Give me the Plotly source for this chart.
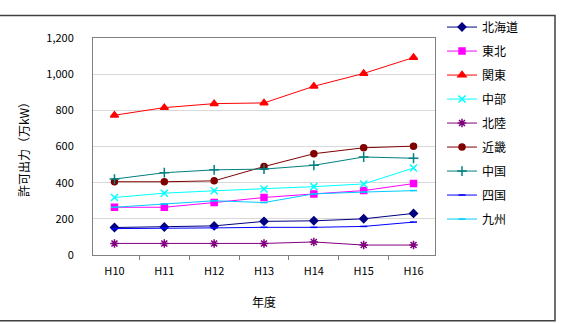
import plotly.graph_objects as go

years = ["H10", "H11", "H12", "H13", "H14", "H15", "H16"]
names = ["北海道", "東北", "関東", "中部", "北陸", "近畿", "中国", "四国", "九州"]
hokkaido = [152, 155, 161, 186, 189, 200, 230]
tohoku = [264, 264, 290, 318, 338, 356, 395]
kanto = [773, 815, 837, 841, 933, 1004, 1092]
chubu = [318, 342, 355, 365, 378, 393, 481]
hokuriku = [64, 64, 64, 64, 72, 55, 55]
kinki = [405, 405, 410, 489, 560, 593, 602]
chugoku = [420, 455, 471, 475, 496, 542, 535]
shikoku = [146, 150, 150, 153, 153, 158, 182]
kyushu = [264, 282, 300, 290, 338, 348, 356]
series = [hokkaido, tohoku, kanto, chubu, hokuriku, kinki, chugoku, shikoku, kyushu]

colors = ["#000080", "#FF00FF", "#FF0000", "#00FFFF", "#800080",
          "#800000", "#008080", "#0000FF", "#00CCFF"]
symbols = ["diamond", "square", "triangle-up", "x-thin-open", "asterisk-open",
           "circle", "cross-thin-open", "line-ew-open", "line-ew-open"]
sizes = [6, 6, 7, 7, 7, 6, 7, 5, 5]

FONT = "Noto Sans CJK JP"
W, H = 561, 323
L, R, T, B = 93, 435, 37.5, 255

fig = go.Figure()
for i, (n, v) in enumerate(zip(names, series)):
    fig.add_trace(go.Scatter(
        x=years, y=v, name=n, mode="lines+markers", legendgroup=n,
        line=dict(color=colors[i], width=1),
        marker=dict(symbol=symbols[i], size=sizes[i], color=colors[i],
                    line=dict(color=colors[i], width=1.5)),
    ))

def px2x(p):
    return (p - L) / (R - L)

def px2y(p):
    return (B - p) / (B - T)

fig.update_layout(
    width=W, height=H,
    margin=dict(l=L, r=W - R, t=T, b=H - B),
    paper_bgcolor="white", plot_bgcolor="white",
    font=dict(family=FONT, size=11, color="#000000"),
    showlegend=True,
    legend=dict(x=px2x(442), y=px2y(12), xanchor="left", yanchor="top",
                font=dict(family=FONT, size=12), tracegroupgap=5, maxheight=300,
                bgcolor="rgba(0,0,0,0)", itemwidth=30),
    xaxis=dict(type="category", showgrid=False, ticks="outside", tickson="boundaries",
               ticklen=4, tickcolor="#808080", showline=True, linecolor="#808080",
               mirror=True, tickfont=dict(size=11), ticklabelstandoff=6,
               title=dict(text="年度", font=dict(size=12), standoff=21)),
    yaxis=dict(range=[0, 1200], dtick=200, tickformat=",", showgrid=True,
               gridcolor="#D9D9D9", showline=True, linecolor="#808080", mirror=True,
               ticks="", tickfont=dict(size=11), zeroline=False, ticklabelstandoff=16,
               title=dict(text="許可出力（万kW）", font=dict(size=12), standoff=14)),
    shapes=[dict(type="rect", xref="paper", yref="paper",
                 x0=px2x(-2), x1=px2x(555), y0=px2y(321), y1=px2y(15),
                 line=dict(color="#404040", width=1.5))],
)

fig.write_html("out.html")
